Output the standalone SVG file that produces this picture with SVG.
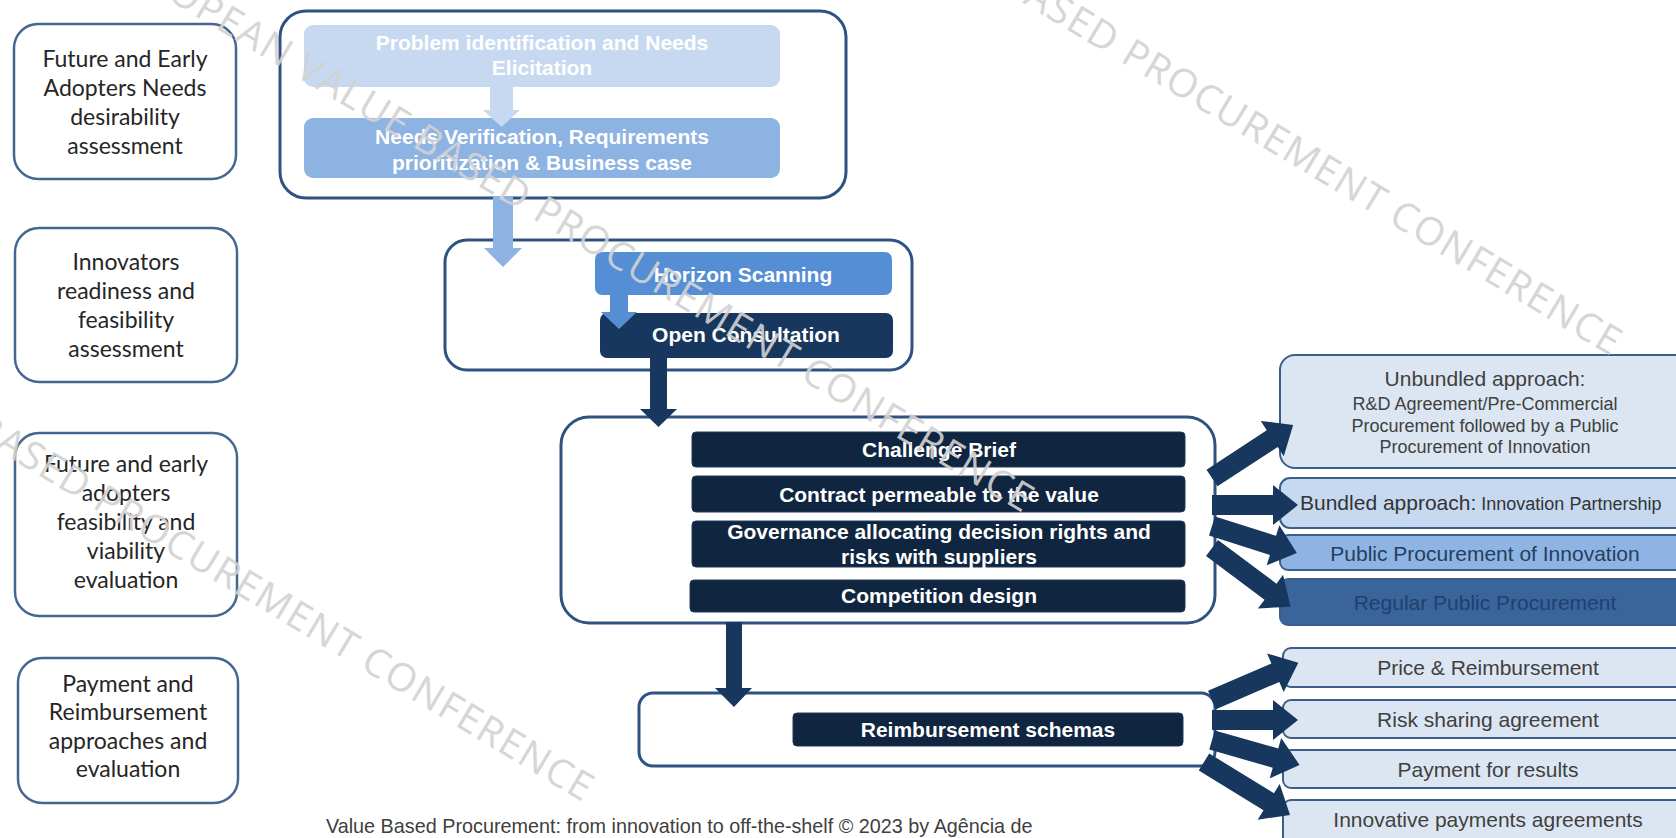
<svg xmlns="http://www.w3.org/2000/svg" width="1676" height="838" viewBox="0 0 1676 838">
<style>
.lbox{fill:#fff;stroke:#45678f;stroke-width:2.5}
.lt{font-family:Lato,"Noto Sans",sans-serif;font-size:23px;fill:#262626;text-anchor:middle}
.grp{fill:#fff;stroke:#2f5381;stroke-width:3}
.wt{font-family:"Liberation Sans",Arial,sans-serif;font-weight:bold;font-size:21px;fill:#fff;text-anchor:middle}
.rbox{stroke:#3b5f8c;stroke-width:2}
.rt{font-family:"Liberation Sans",Arial,sans-serif;font-size:21px;fill:#404040;text-anchor:middle}
.rs{font-size:18px}
.dark{fill:#10253f;stroke:#1f3a5c;stroke-width:1}
.nav{fill:#17375e}
.wm{font-family:"Open Sans",sans-serif;font-size:39px;letter-spacing:1.5px;fill:#d2d2d2;opacity:.9;text-anchor:end}
.foot{font-family:"Liberation Sans",Arial,sans-serif;font-size:19.8px;fill:#404040}
</style>
<rect width="1676" height="838" fill="#fff"/>

<g id="left-desirability">
<rect class="lbox" x="14" y="24" width="222" height="155" rx="24"/>
<text class="lt"><tspan x="125" y="67">Future and Early</tspan><tspan x="125" y="96">Adopters Needs</tspan><tspan x="125" y="125">desirability</tspan><tspan x="125" y="154">assessment</tspan></text>
</g>
<g id="left-readiness">
<rect class="lbox" x="15" y="228" width="222" height="154" rx="24"/>
<text class="lt"><tspan x="126" y="270">Innovators</tspan><tspan x="126" y="299">readiness and</tspan><tspan x="126" y="328">feasibility</tspan><tspan x="126" y="357">assessment</tspan></text>
</g>
<g id="left-feasibility">
<rect class="lbox" x="15" y="433" width="222" height="183" rx="24"/>
<text class="lt"><tspan x="126" y="472">Future and early</tspan><tspan x="126" y="501">adopters</tspan><tspan x="126" y="530">feasibility and</tspan><tspan x="126" y="559">viability</tspan><tspan x="126" y="588">evaluation</tspan></text>
</g>
<g id="left-payment">
<rect class="lbox" x="18" y="658" width="220" height="145" rx="24"/>
<text class="lt"><tspan x="128" y="692">Payment and</tspan><tspan x="128" y="720">Reimbursement</tspan><tspan x="128" y="749">approaches and</tspan><tspan x="128" y="777">evaluation</tspan></text>
</g>

<g id="needs-group">
<rect class="grp" x="280" y="11" width="566" height="187" rx="26"/>
<g id="problem-identification">
<rect x="304" y="25" width="476" height="62" rx="9" fill="#c6d9f1"/>
<text class="wt"><tspan x="542" y="50">Problem identification and Needs</tspan><tspan x="542" y="75">Elicitation</tspan></text>
</g>
<g id="needs-verification">
<rect x="304" y="118" width="476" height="60" rx="9" fill="#8db3e2"/>
<text class="wt"><tspan x="542" y="144">Needs Verification, Requirements</tspan><tspan x="542" y="170">prioritization &amp; Business case</tspan></text>
</g>
</g>

<g id="horizon-group">
<rect class="grp" x="445" y="240" width="467" height="130" rx="22"/>
<g id="horizon-scanning">
<rect x="595" y="252" width="297" height="43" rx="7" fill="#558ed5"/>
<text class="wt" x="743" y="282">Horizon Scanning</text>
</g>
<g id="open-consultation">
<rect x="600" y="313" width="293" height="45" rx="7" fill="#17375e"/>
<text class="wt" x="746" y="342">Open Consultation</text>
</g>
</g>

<g id="design-group">
<rect class="grp" x="561" y="417" width="654" height="206" rx="28"/>
<g id="challenge-brief"><rect class="dark" x="692" y="432" width="493" height="35" rx="4"/><text class="wt" x="939" y="457">Challenge Brief</text></g>
<g id="contract"><rect class="dark" x="692" y="476" width="493" height="36" rx="4"/><text class="wt" x="939" y="502">Contract permeable to the value</text></g>
<g id="governance"><rect class="dark" x="692" y="521" width="493" height="46" rx="4"/><text class="wt"><tspan x="939" y="539">Governance allocating decision rights and</tspan><tspan x="939" y="564">risks with suppliers</tspan></text></g>
<g id="competition"><rect class="dark" x="690" y="580" width="495" height="32" rx="4"/><text class="wt" x="939" y="603">Competition design</text></g>
</g>

<g id="reimbursement-group">
<rect class="grp" x="639" y="693" width="576" height="73" rx="14"/>
<g id="reimbursement-schemas"><rect class="dark" x="793" y="713" width="390" height="33" rx="4"/><text class="wt" x="988" y="737">Reimbursement schemas</text></g>
</g>

<g id="unbundled">
<rect class="rbox" x="1280" y="355" width="420" height="113" rx="15" fill="#dce6f2"/>
<text class="rt"><tspan x="1485" y="386">Unbundled approach:</tspan><tspan class="rs" x="1485" y="410">R&amp;D Agreement/Pre-Commercial</tspan><tspan class="rs" x="1485" y="432">Procurement followed by a Public</tspan><tspan class="rs" x="1485" y="453">Procurement of Innovation</tspan></text>
</g>
<g id="bundled">
<rect class="rbox" x="1280" y="478" width="420" height="50" rx="10" fill="#c6d9f1"/>
<text class="rt" x="1300" y="510" style="text-anchor:start;fill:#333">Bundled approach:<tspan class="rs"> Innovation Partnership</tspan></text>
</g>
<g id="ppi">
<rect class="rbox" x="1280" y="535" width="420" height="35" rx="8" fill="#8eb4e3"/>
<text class="rt" x="1485" y="561" style="fill:#243f60">Public Procurement of Innovation</text>
</g>
<g id="regular">
<rect class="rbox" x="1280" y="579" width="420" height="46" rx="8" fill="#3a659a"/>
<text class="rt" x="1485" y="610" style="fill:#1f4170">Regular Public Procurement</text>
</g>

<g id="price"><rect class="rbox" x="1283" y="648" width="420" height="39" rx="8" fill="#dce6f2"/><text class="rt" x="1488" y="675">Price &amp; Reimbursement</text></g>
<g id="risk"><rect class="rbox" x="1283" y="700" width="420" height="38" rx="8" fill="#dce6f2"/><text class="rt" x="1488" y="727">Risk sharing agreement</text></g>
<g id="results"><rect class="rbox" x="1283" y="750" width="420" height="38" rx="8" fill="#dce6f2"/><text class="rt" x="1488" y="777">Payment for results</text></g>
<g id="innovative"><rect class="rbox" x="1283" y="800" width="420" height="50" rx="8" fill="#dce6f2"/><text class="rt" x="1488" y="827">Innovative payments agreements</text></g>

<g id="connectors">
<polygon points="490,86 513,86 513,110 520,110 501.5,127 483,110 490,110" fill="#c6d9f1"/>
<polygon points="493,196 513,196 513,248 522,248 503,267 484,248 493,248" fill="#8db3e2"/>
<polygon points="610,294 628,294 628,312 637,312 619,329 601,312 610,312" fill="#558ed5"/>
<polygon points="650,357 667,357 667,409 677,409 658.5,427 640,409 650,409" class="nav"/>
<polygon points="726,622 742,622 742,688 752,688 734,707 715,688 726,688" class="nav"/>
<polygon class="nav" transform="translate(1212 478) rotate(-33.2)" points="0,-10 72,-10 72,-21 97,0 72,21 72,10 0,10"/>
<polygon class="nav" transform="translate(1212 505)" points="0,-10 61,-10 61,-20 86,0 61,20 61,10 0,10"/>
<polygon class="nav" transform="translate(1212 526) rotate(17.6)" points="0,-10 64,-10 64,-21 89,0 64,21 64,10 0,10"/>
<polygon class="nav" transform="translate(1212 548) rotate(36.75)" points="0,-10 73,-10 73,-21 98,0 73,21 73,10 0,10"/>
<polygon class="nav" transform="translate(1212 700) rotate(-23.3)" points="0,-10 69,-10 69,-21 94,0 69,21 69,10 0,10"/>
<polygon class="nav" transform="translate(1212 720)" points="0,-10 61,-10 61,-20 86,0 61,20 61,10 0,10"/>
<polygon class="nav" transform="translate(1212 740) rotate(15.9)" points="0,-10 66,-10 66,-21 91,0 66,21 66,10 0,10"/>
<polygon class="nav" transform="translate(1204 762) rotate(31.6)" points="0,-10 76,-10 76,-21 101,0 76,21 76,10 0,10"/>
</g>

<text class="foot" x="326" y="833">Value Based Procurement: from innovation to off-the-shelf © 2023 by Agência de</text>

<g id="watermark">
<text class="wm" transform="translate(1024 514) rotate(31)">EUROPEAN VALUE BASED PROCUREMENT CONFERENCE</text>
<text class="wm" transform="translate(1612 357) rotate(31)">EUROPEAN VALUE BASED PROCUREMENT CONFERENCE</text>
<text class="wm" transform="translate(584 803) rotate(31)">EUROPEAN VALUE BASED PROCUREMENT CONFERENCE</text>
</g>
</svg>
